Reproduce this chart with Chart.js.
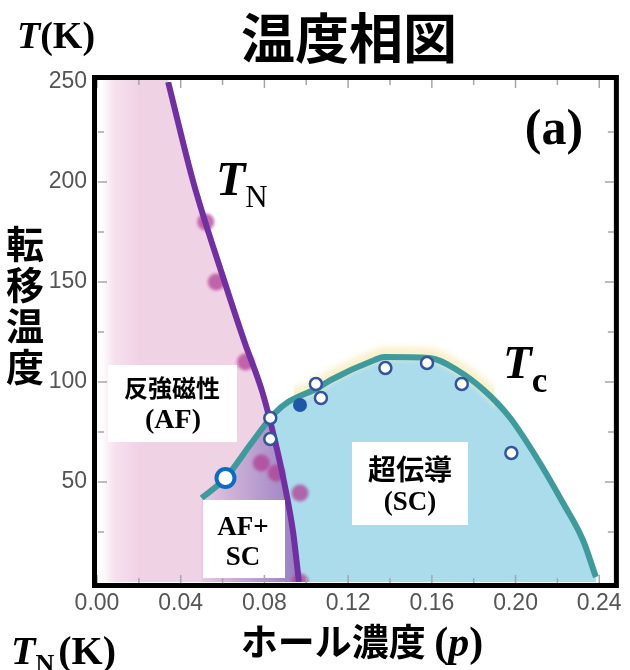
<!DOCTYPE html>
<html lang="ja">
<head>
<meta charset="utf-8">
<title>温度相図</title>
<script src="https://cdn.jsdelivr.net/npm/chart.js@4.4.1/dist/chart.umd.min.js"></script>
<style>
  html, body { margin: 0; padding: 0; background: #fff; }
  canvas { display: block; }
</style>
</head>
<body>
<canvas id="phase" width="630" height="670"></canvas>
<script>
// axis ticks
const pTicks = [0, 0.04, 0.08, 0.12, 0.16, 0.20, 0.24];
const tTicks = [50, 100, 150, 200, 250];
const pMarks = [0, 0.02, 0.04, 0.06, 0.08, 0.10, 0.12, 0.14, 0.16, 0.18, 0.20, 0.22, 0.24];
const tMarks = [25, 50, 75, 100, 125, 150, 175, 200, 225];

// Neel temperature line T_N(p)
const tnP = [0.034, 0.046, 0.061, 0.0705, 0.079, 0.0852, 0.0894, 0.0937, 0.0965];
const tnT = [250, 200, 150, 120, 95, 70, 50, 25, 0];

// superconducting dome T_c(p)
const tcP = [0.050, 0.0614, 0.0738, 0.085, 0.0913, 0.1055, 0.1117, 0.1326, 0.1373, 0.159, 0.172, 0.1848, 0.1971, 0.2099, 0.2227, 0.2322, 0.2384];
const tcT = [42, 52, 69.5, 84.5, 90, 97, 101, 111, 112.5, 112, 106, 96, 82.5, 62.5, 39.5, 21, 2.5];

// measured points
const afP = [0.052, 0.057, 0.071, 0.0785, 0.0856, 0.097, 0.097];
const afT = [180, 150, 110, 59.5, 54.5, 44.5, 0];
const scP = [0.0828, 0.0828, 0.1046, 0.1070, 0.1378, 0.1577, 0.1743, 0.1980];
const scT = [82, 71.5, 99, 92, 107, 109.5, 99, 64.5];
const scFilledP = [0.097];
const scFilledT = [88.5];
const markP = [0.0614];
const markT = [52];

const SERIF = '"Liberation Serif", "DejaVu Serif", serif';
const JP = '"Noto Sans CJK JP", "Noto Sans CJK SC", sans-serif';
const SANS = '"Liberation Sans", Arial, sans-serif';

const xy = (xs, ys) => xs.map((x, i) => ({ x: x, y: ys[i] }));

// draw a row of text pieces with different fonts
function runs(ctx, x, y, parts, align) {
    let w = 0;
    parts.forEach(p => {
        ctx.font = p.font;
        p.w = ctx.measureText(p.text).width + (p.gap || 0);
        w += p.w;
    });
    let cx = align === 'center' ? x - w / 2 : x;
    ctx.textAlign = 'left';
    parts.forEach(p => {
        ctx.font = p.font;
        ctx.fillText(p.text, cx + (p.gap || 0), y + (p.dy || 0));
        cx += p.w;
    });
}

// blur for datasets that ask for it
const softPoints = {
    id: 'softPoints',
    beforeDatasetDraw(chart, args) {
        const ds = chart.data.datasets[args.index];
        if (ds.blur) {
            chart.ctx.save();
            chart.ctx.filter = 'blur(' + ds.blur + 'px)';
        }
    },
    afterDatasetDraw(chart, args) {
        if (chart.data.datasets[args.index].blur) chart.ctx.restore();
    }
};

// AF / SC / AF+SC regions built from the two phase lines
const regions = {
    id: 'regions',
    beforeDatasetsDraw(chart) {
        const { ctx, chartArea: a, scales: { x } } = chart;
        const tn = chart.getDatasetMeta(2).dataset;
        const tc = chart.getDatasetMeta(1).dataset;
        tn.updateControlPoints(a, 'x');
        tc.updateControlPoints(a, 'x');
        const tcPts = tc.points, tnPts = tn.points;

        const dome = () => {
            ctx.beginPath();
            tc.path(ctx);
            ctx.lineTo(tcPts[tcPts.length - 1].x, a.bottom);
            ctx.lineTo(tcPts[0].x, a.bottom);
            ctx.closePath();
        };
        const afArea = () => {
            ctx.beginPath();
            tn.path(ctx);
            ctx.lineTo(a.left, a.bottom);
            ctx.lineTo(a.left, a.top - 3);
            ctx.lineTo(tnPts[0].x, a.top - 3);
            ctx.closePath();
        };

        ctx.save();
        dome();
        ctx.fillStyle = '#aadcec';
        ctx.fill();

        afArea();
        const pink = ctx.createLinearGradient(a.left + 4, 0, a.left + 42, 0);
        pink.addColorStop(0, '#ffffff');
        pink.addColorStop(0.35, '#f6e1ee');
        pink.addColorStop(1, '#f0d2e5');
        ctx.fillStyle = pink;
        ctx.fill();

        afArea();
        ctx.clip();
        dome();
        const mix = ctx.createLinearGradient(x.getPixelForValue(0.048), 0, x.getPixelForValue(0.095), 0);
        mix.addColorStop(0, '#e9cbe3');
        mix.addColorStop(1, '#9a80c2');
        ctx.fillStyle = mix;
        ctx.fill();
        ctx.restore();

        // faint glow above the top of the dome
        ctx.save();
        ctx.beginPath();
        ctx.rect(x.getPixelForValue(0.094), a.top, x.getPixelForValue(0.19) - x.getPixelForValue(0.094), a.height);
        ctx.clip();
        ctx.filter = 'blur(3px)';
        ctx.translate(0, -4);
        ctx.beginPath();
        tc.path(ctx);
        ctx.strokeStyle = 'rgba(250, 238, 196, 0.9)';
        ctx.lineWidth = 12;
        ctx.stroke();
        ctx.restore();
    },
    afterDatasetsDraw(chart) {
        const { ctx, chartArea: a, scales: { x, y } } = chart;
        ctx.save();

        // label boxes
        ctx.fillStyle = '#ffffff';
        ctx.fillRect(108, 365, 129, 77);
        ctx.fillRect(203, 500, 82, 78);
        ctx.fillRect(352, 442, 116, 83);

        ctx.fillStyle = '#000';
        ctx.textBaseline = 'alphabetic';
        ctx.textAlign = 'center';
        ctx.font = 'bold 24px ' + JP;
        ctx.fillText('反強磁性', 172, 397);
        ctx.font = 'bold 28px ' + SERIF;
        ctx.fillText('(AF)', 173, 428);
        ctx.font = 'bold 27px ' + SERIF;
        ctx.fillText('AF+', 243, 535);
        ctx.fillText('SC', 243, 565);
        ctx.font = 'bold 28px ' + JP;
        ctx.fillText('超伝導', 410, 480);
        ctx.font = 'bold 27px ' + SERIF;
        ctx.fillText('(SC)', 410, 510);

        // line labels
        runs(ctx, 216, 195, [
            { text: 'T', font: 'italic bold 48px ' + SERIF },
            { text: 'N', font: '31px ' + SERIF, dy: 12 }
        ]);
        runs(ctx, 503, 378, [
            { text: 'T', font: 'italic bold 47px ' + SERIF },
            { text: 'c', font: 'bold 35px ' + SERIF, dy: 14 }
        ]);
        ctx.textAlign = 'center';
        ctx.font = 'bold 50px ' + SERIF;
        ctx.fillText('(a)', 554, 144);

        // inward tick marks
        ctx.strokeStyle = '#a6a6a6';
        ctx.lineWidth = 1.5;
        ctx.beginPath();
        pMarks.forEach((v, i) => {
            const px = x.getPixelForValue(v);
            const len = i % 2 === 0 ? 8 : 5;
            ctx.moveTo(px, a.top - 2); ctx.lineTo(px, a.top - 2 + len);
            ctx.moveTo(px, a.bottom + 1); ctx.lineTo(px, a.bottom + 1 - len);
        });
        tMarks.forEach((v, i) => {
            const py = y.getPixelForValue(v);
            const len = i % 2 === 1 ? 9 : 6;
            ctx.moveTo(a.left + 1, py); ctx.lineTo(a.left + 1 + len, py);
            ctx.moveTo(a.right, py); ctx.lineTo(a.right - len, py);
        });
        ctx.stroke();

        // frame
        ctx.strokeStyle = '#000';
        ctx.lineWidth = 5;
        ctx.strokeRect(a.left - 2.5, a.top - 4.5, a.width + 5, a.height + 8);
        ctx.restore();
    },
    afterDraw(chart) {
        const ctx = chart.ctx;
        ctx.save();
        ctx.fillStyle = '#000';
        ctx.textBaseline = 'middle';
        ctx.textAlign = 'center';
        ctx.font = 'bold 54px ' + JP;
        ctx.fillText('温度相図', 349, 38);

        ctx.font = 'bold 38px ' + JP;
        ['転', '移', '温', '度'].forEach((c, i) => ctx.fillText(c, 25, 244 + i * 41));

        ctx.textBaseline = 'alphabetic';
        runs(ctx, 17, 48, [
            { text: 'T', font: 'italic bold 38px ' + SERIF },
            { text: '(K)', font: 'bold 38px ' + SERIF }
        ]);
        runs(ctx, 362, 656, [
            { text: 'ホール濃度 ', font: 'bold 37px ' + JP },
            { text: '(', font: 'bold 42px ' + SERIF },
            { text: 'p', font: 'italic bold 42px ' + SERIF },
            { text: ')', font: 'bold 42px ' + SERIF }
        ], 'center');
        runs(ctx, 11, 664, [
            { text: 'T', font: 'italic bold 40px ' + SERIF },
            { text: 'N', font: 'bold 26px ' + SERIF, dy: 8 },
            { text: '(K)', font: 'bold 40px ' + SERIF, gap: 4 }
        ]);
        ctx.restore();
    }
};

new Chart(document.getElementById('phase'), {
    type: 'line',
    data: {
        datasets: [
            {
                // AF data points
                data: xy(afP, afT),
                showLine: false,
                pointRadius: 8.5,
                pointBackgroundColor: 'rgba(178, 62, 150, 0.75)',
                pointBorderWidth: 0,
                blur: 1.6,
                order: 5
            },
            {
                data: xy(tcP, tcT),
                borderColor: '#3f9a9c',
                borderWidth: 6,
                pointRadius: 0,
                cubicInterpolationMode: 'monotone',
                borderCapStyle: 'butt',
                order: 4
            },
            {
                data: xy(tnP, tnT),
                borderColor: '#7030a0',
                borderWidth: 6,
                pointRadius: 0,
                cubicInterpolationMode: 'monotone',
                order: 3
            },
            {
                // SC data points
                data: xy(scP, scT),
                showLine: false,
                pointRadius: 6,
                pointBackgroundColor: '#ffffff',
                pointBorderColor: '#34549e',
                pointBorderWidth: 2.5,
                blur: 0.4,
                order: 2
            },
            {
                data: xy(scFilledP, scFilledT),
                showLine: false,
                pointRadius: 7,
                pointBackgroundColor: '#1f57a8',
                pointBorderWidth: 0,
                blur: 0.6,
                order: 2
            },
            {
                data: xy(markP, markT),
                showLine: false,
                pointRadius: 9,
                pointBackgroundColor: '#ffffff',
                pointBorderColor: '#0b6cc0',
                pointBorderWidth: 4,
                order: 1
            }
        ]
    },
    options: {
        responsive: false,
        animation: false,
        devicePixelRatio: 1,
        layout: { padding: { top: 82, right: 12, left: 0, bottom: 0 } },
        plugins: {
            legend: { display: false },
            tooltip: { enabled: false }
        },
        scales: {
            x: {
                type: 'linear',
                min: 0,
                max: 0.247,
                afterFit: (s) => { s.height = 88; },
                afterBuildTicks: (s) => { s.ticks = pTicks.map(v => ({ value: v })); },
                grid: { display: false, drawTicks: false },
                border: { display: false },
                ticks: {
                    font: { family: SANS, size: 23 },
                    color: '#555',
                    padding: 8,
                    autoSkip: false,
                    maxRotation: 0,
                    callback: (v) => v.toFixed(2)
                }
            },
            y: {
                type: 'linear',
                min: 0,
                max: 250,
                afterFit: (s) => { s.width = 97; },
                afterBuildTicks: (s) => { s.ticks = tTicks.map(v => ({ value: v })); },
                grid: { display: false, drawTicks: false },
                border: { display: false },
                ticks: {
                    font: { family: SANS, size: 23 },
                    color: '#555',
                    padding: 10
                }
            }
        }
    },
    plugins: [softPoints, regions]
});
</script>
</body>
</html>
